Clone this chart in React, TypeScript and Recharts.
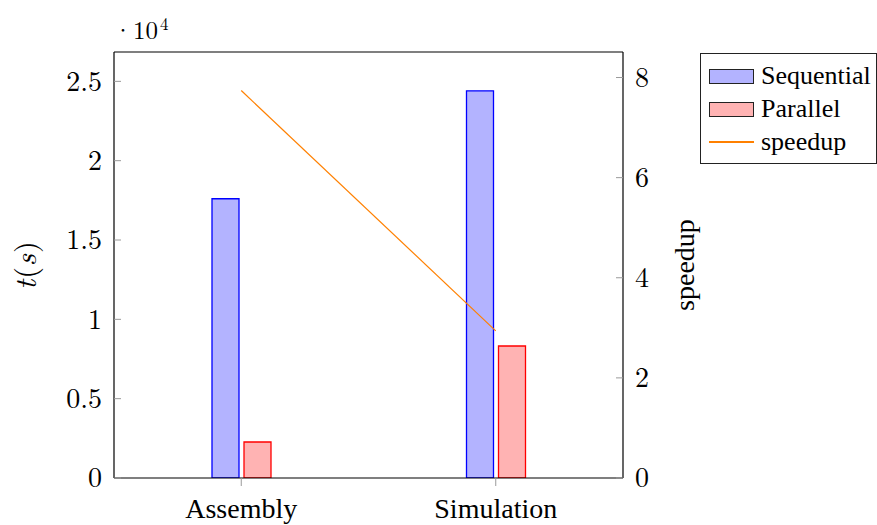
import React from 'react';
import { ComposedChart, Bar, Line, XAxis, YAxis } from 'recharts';

const categories = ['Assembly', 'Simulation'];
const sequential = [17600, 24400];
const parallel = [2270, 8320];
const speedup = [7.74, 2.94];
const timeTicks = [0, 5000, 10000, 15000, 20000, 25000];
const speedupTicks = [0, 2, 4, 6, 8];

const data = categories.map((name, i) => ({
  name,
  sequential: sequential[i],
  parallel: parallel[i],
  speedup: speedup[i],
}));

// numbers are set in the TeX face, words in Times
const MATH = 'Latin Modern Roman, Liberation Serif, serif';
const TEXT = 'Liberation Serif, Times New Roman, serif';
const GRAY = '#9a9a9a';

// y ticks point into the plot, labels stay outside
const LeftTick = ({ x, y, payload }: any) => {
  const axisX = x + 12;
  return (
    <g>
      <line x1={axisX} x2={axisX + 7} y1={y} y2={y} stroke={GRAY} />
      <text x={x} y={y} dy="0.33em" textAnchor="end" fontFamily={MATH} fontSize={28} fill="#000">
        {payload.value / 10000}
      </text>
    </g>
  );
};

const RightTick = ({ x, y, payload }: any) => {
  const axisX = x - 12;
  return (
    <g>
      <line x1={axisX - 7} x2={axisX} y1={y} y2={y} stroke={GRAY} />
      <text x={x} y={y} dy="0.33em" textAnchor="start" fontFamily={MATH} fontSize={28} fill="#000">
        {payload.value}
      </text>
    </g>
  );
};

const BottomTick = ({ x, y, payload }: any) => (
  <text x={x} y={y + 20} textAnchor="middle" fontFamily={TEXT} fontSize={28} fill="#000">
    {payload.value}
  </text>
);

const LeftLabel = ({ viewBox }: any) => {
  const cy = viewBox.y + viewBox.height / 2;
  const mx = viewBox.x + viewBox.width;
  const base = viewBox.y - 13;
  return (
    <g fontFamily={MATH} fill="#000">
      <text x={36} y={cy} transform={`rotate(-90, 36, ${cy})`} textAnchor="middle" fontSize={30} letterSpacing={1}>
        <tspan fontStyle="italic">t</tspan>(<tspan fontStyle="italic">s</tspan>)
      </text>
      <text x={mx + 9} y={base} textAnchor="middle" fontSize={25}>·</text>
      <text x={mx + 19} y={base} fontSize={25}>10</text>
      <text x={mx + 46} y={base - 9} fontSize={17}>4</text>
    </g>
  );
};

const RightLabel = ({ viewBox }: any) => {
  const cy = viewBox.y + viewBox.height / 2;
  const x = 694;
  return (
    <text x={x} y={cy} transform={`rotate(-90, ${x}, ${cy})`} textAnchor="middle" fontFamily={TEXT} fontSize={28} fill="#000">
      speedup
    </text>
  );
};

const legendItems = [
  { label: 'Sequential', fill: '#b3b3ff', kind: 'bar' },
  { label: 'Parallel', fill: '#ffb3b3', kind: 'bar' },
  { label: 'speedup', fill: '#ff8000', kind: 'line' },
];

export default function App() {
  return (
    <div style={{ position: 'absolute', left: 0, top: 0, width: 877, height: 525, background: '#fff' }}>
      <ComposedChart
        width={877}
        height={525}
        data={data}
        margin={{ top: 51, right: 194, bottom: 0, left: 0 }}
        barGap={5}
      >
        <XAxis
          xAxisId="bottom"
          dataKey="name"
          height={47}
          axisLine={{ stroke: '#000', strokeWidth: 1.2 }}
          tickLine={{ stroke: GRAY }}
          tickSize={8}
          tickMargin={12}
          tick={<BottomTick />}
        />
        <XAxis
          xAxisId="top"
          dataKey="name"
          orientation="top"
          height={1}
          axisLine={{ stroke: '#000', strokeWidth: 1.2 }}
          tickLine={{ stroke: GRAY }}
          tickSize={8}
          tick={false}
        />
        <YAxis
          yAxisId="left"
          width={114}
          domain={[0, 26850]}
          ticks={timeTicks}
          allowDataOverflow
          axisLine={{ stroke: '#000', strokeWidth: 1.2 }}
          tickLine={false}
          tickSize={0}
          tickMargin={12}
          tick={<LeftTick />}
          label={{ content: <LeftLabel /> }}
        />
        <YAxis
          yAxisId="right"
          orientation="right"
          width={60}
          domain={[0, 8.51]}
          ticks={speedupTicks}
          allowDataOverflow
          axisLine={{ stroke: '#000', strokeWidth: 1.2 }}
          tickLine={false}
          tickSize={0}
          tickMargin={12}
          tick={<RightTick />}
          label={{ content: <RightLabel /> }}
        />
        <Bar
          xAxisId="bottom"
          yAxisId="left"
          dataKey="sequential"
          barSize={27}
          fill="#b3b3ff"
          stroke="#0000ff"
          strokeWidth={1.3}
          isAnimationActive={false}
        />
        <Bar
          xAxisId="bottom"
          yAxisId="left"
          dataKey="parallel"
          barSize={27}
          fill="#ffb3b3"
          stroke="#ff0000"
          strokeWidth={1.3}
          isAnimationActive={false}
        />
        <Line
          xAxisId="bottom"
          yAxisId="right"
          type="linear"
          dataKey="speedup"
          stroke="#ff8000"
          strokeWidth={1.2}
          dot={false}
          activeDot={false}
          isAnimationActive={false}
        />
      </ComposedChart>

      <div
        style={{
          position: 'absolute',
          left: 700,
          top: 53,
          width: 177,
          height: 111,
          border: '1px solid #222',
          boxSizing: 'border-box',
          fontFamily: TEXT,
          fontSize: 26,
          color: '#000',
        }}
      >
        {legendItems.map((item, i) => (
          <div
            key={item.label}
            style={{
              position: 'absolute',
              left: 8,
              top: 6 + i * 33,
              height: 32,
              display: 'flex',
              alignItems: 'center',
              whiteSpace: 'nowrap',
            }}
          >
            {item.kind === 'bar' ? (
              <span
                style={{
                  display: 'inline-block',
                  width: 45,
                  height: 15,
                  boxSizing: 'border-box',
                  border: '1px solid #222',
                  background: item.fill,
                }}
              />
            ) : (
              <span style={{ display: 'inline-block', width: 45, height: 1.5, background: item.fill }} />
            )}
            <span style={{ marginLeft: 7, lineHeight: '32px' }}>{item.label}</span>
          </div>
        ))}
      </div>
    </div>
  );
}
